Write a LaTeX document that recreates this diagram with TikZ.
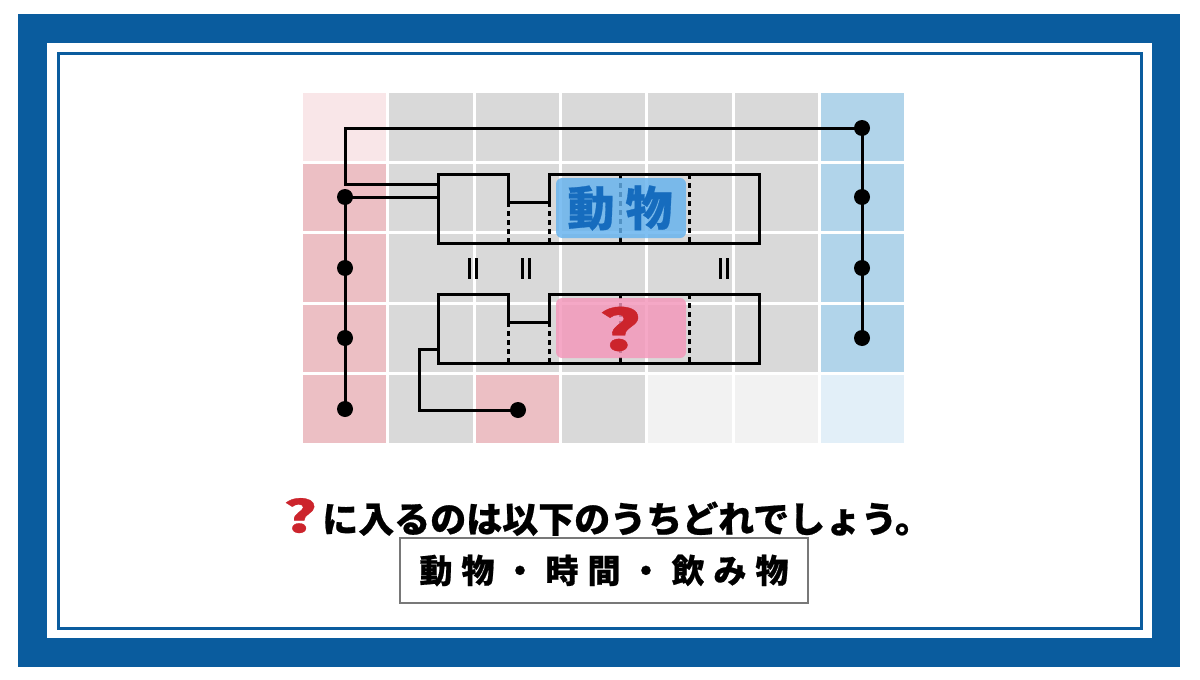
\documentclass[tikz,border=0pt]{standalone}
\usepackage{fontspec}
\newfontfamily\cjk{Noto Sans CJK JP}[BoldFeatures={FakeBold=0.6}]
\usetikzlibrary{calc}
\definecolor{frameblue}{RGB}{10,92,158}
\definecolor{cellgray}{RGB}{217,217,217}
\definecolor{cellpink}{RGB}{236,191,196}
\definecolor{cellpinklt}{RGB}{249,230,232}
\definecolor{cellblue}{RGB}{177,212,234}
\definecolor{cellbluelt}{RGB}{226,239,248}
\definecolor{cellgraylt}{RGB}{242,242,242}
\definecolor{lblblue}{RGB}{100,178,238}
\definecolor{lbltext}{RGB}{22,108,190}
\definecolor{lblpink}{RGB}{244,150,186}
\definecolor{qred}{RGB}{204,36,44}
\definecolor{boxgray}{RGB}{120,120,120}
\newcommand\fatq{\scalebox{1.45}[1]{?}}
\tikzset{
  dot/.style={circle,fill=black,inner sep=0pt,minimum size=16pt},
  wire/.style={line width=3pt,black,line join=miter},
  boxline/.style={line width=3pt,black,line join=miter},
  divline/.style={line width=3pt,black,dash pattern=on 5pt off 4pt},
  eqbar/.style={line width=3.5pt,black},
  label/.style={rounded corners=6pt,fill opacity=0.82},
  cell/.style={inner sep=0pt,outer sep=0pt}
}
\begin{document}
\begin{tikzpicture}[x=1pt,y=-1pt]
\useasboundingbox (0,0) rectangle (1200,680);
% frame
\fill[frameblue] (18,14) rectangle (1180,667);
\fill[white] (47,43) rectangle (1152,638);
\draw[frameblue,line width=3pt] (58,53) rectangle (1141,628);
% grid cells
\foreach \r/\c/\col in {
 0/0/cellpinklt,0/1/cellgray,0/2/cellgray,0/3/cellgray,0/4/cellgray,0/5/cellgray,0/6/cellblue,
 1/0/cellpink,1/1/cellgray,1/2/cellgray,1/3/cellgray,1/4/cellgray,1/5/cellgray,1/6/cellblue,
 2/0/cellpink,2/1/cellgray,2/2/cellgray,2/3/cellgray,2/4/cellgray,2/5/cellgray,2/6/cellblue,
 3/0/cellpink,3/1/cellgray,3/2/cellgray,3/3/cellgray,3/4/cellgray,3/5/cellgray,3/6/cellblue,
 4/0/cellpink,4/1/cellgray,4/2/cellpink,4/3/cellgray,4/4/cellgraylt,4/5/cellgraylt,4/6/cellbluelt}{
  \fill[\col] ({303+86.3*\c},{93+70.5*\r}) rectangle ({303+86.3*\c+83.3},{93+70.5*\r+67.5});
}
% dots
\node[dot] (L1) at (345,197) {};
\node[dot] (L2) at (345,268) {};
\node[dot] (L3) at (345,338) {};
\node[dot] (L4) at (345,409) {};
\node[dot] (R1) at (862,128) {};
\node[dot] (R2) at (862,197) {};
\node[dot] (R3) at (862,268) {};
\node[dot] (R4) at (862,338) {};
\node[dot] (B) at (518,410) {};
% connector end points on boxes
\coordinate (U1) at (438,184);
\coordinate (U2) at (438,197);
\coordinate (D1) at (438,349);
\coordinate (K1) at (345,184);
\coordinate (K2) at (419,349);
% connectors
\draw[wire] (L1.center) -- (L4.center);
\draw[wire] (R1.center) -- (R4.center);
\draw[wire] (R1.center) -| (K1) -- (U1);
\draw[wire] (L1.center) -- (U2);
\draw[wire] (D1) -- (K2) |- (B.center);
% upper box dividers
\draw[divline] (508,202) -- (508,243);
\draw[divline] (549,202) -- (549,243);
\draw[divline] (620,174) -- (620,243);
\draw[divline] (689,174) -- (689,243);
\draw[boxline] (438,174) -- (508,174) -- (508,202) -- (549,202) -- (549,174) -- (759,174) -- (759,243) -- (438,243) -- cycle;
% lower box dividers
\draw[divline] (508,322) -- (508,363);
\draw[divline] (549,322) -- (549,363);
\draw[divline] (620,294) -- (620,363);
\draw[divline] (689,294) -- (689,363);
\draw[boxline] (438,294) -- (508,294) -- (508,322) -- (549,322) -- (549,294) -- (759,294) -- (759,363) -- (438,363) -- cycle;
% labels
\fill[label,lblblue] (556,178) rectangle (686,238);
\node[cell,text=lbltext,font=\cjk\bfseries\fontsize{47}{50}\selectfont] (lab1) at (620,208) {動\hspace{11pt}物};
\fill[label,lblpink] (556,298) rectangle (686,358);
\node[cell,text=qred,font=\cjk\bfseries\fontsize{56}{58}\selectfont] (lab2) at (620,329) {\fatq};
% equality marks
\foreach \x in {473,526,724}{
  \draw[eqbar] ({\x-3.3},258) -- ({\x-3.3},279);
  \draw[eqbar] ({\x+3.3},258) -- ({\x+3.3},279);
}
% question
\node[cell,font=\cjk\bfseries\fontsize{36}{40}\selectfont] (q) at (607,517) {\textcolor{qred}{\fontsize{44}{44}\selectfont\fatq}\hspace{5pt}に入るのは以下のうちどれでしょう。};
% choices box
\node[draw=boxgray,line width=1.5pt,minimum width=408pt,minimum height=65pt,inner sep=0pt,font=\cjk\bfseries\fontsize{33}{38}\selectfont] (choices) at (604,570.5) {動\hspace{9pt}物\hspace{9pt}・\hspace{9pt}時\hspace{9pt}間\hspace{9pt}・\hspace{9pt}飲\hspace{9pt}み\hspace{9pt}物};
\end{tikzpicture}
\end{document}
